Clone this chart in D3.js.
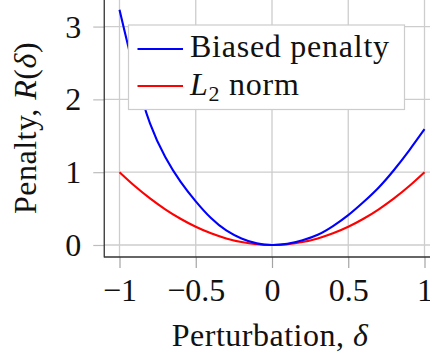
<!DOCTYPE html>
<html>
<head>
<meta charset="utf-8">
<script src="https://cdn.jsdelivr.net/npm/d3@7"></script>
<style>
  html, body { margin: 0; padding: 0; background: #fff; }
  svg { display: block; }
</style>
</head>
<body>
<svg id="chart" width="430" height="358"></svg>
<script>
// Perturbation values (δ) sampled along the x axis
const delta = [-1.0, -0.9, -0.8, -0.7, -0.6, -0.5, -0.4, -0.3, -0.2, -0.1,
               0.0, 0.1, 0.2, 0.3, 0.4, 0.5, 0.6, 0.7, 0.8, 0.9, 1.0];
// Biased penalty R(δ)
const biased = [3.23, 2.37, 1.67, 1.21, 0.87, 0.60, 0.37, 0.20, 0.09, 0.022,
                0.0, 0.015, 0.065, 0.14, 0.26, 0.41, 0.59, 0.79, 1.03, 1.30, 1.59];
// L2 norm of the perturbation
const l2 = [1.0, 0.81, 0.64, 0.49, 0.36, 0.25, 0.16, 0.09, 0.04, 0.01,
            0.0, 0.01, 0.04, 0.09, 0.16, 0.25, 0.36, 0.49, 0.64, 0.81, 1.0];

const xTicks = [-1, -0.5, 0, 0.5, 1];
const xTickLabels = ["\u22121", "\u22120.5", "0", "0.5", "1"];
const yTicks = [0, 1, 2, 3];
const yTickLabels = ["0", "1", "2", "3"];

const FONT = "Liberation Serif";
const svg = d3.select("#chart");
const W = 430;

// axis box spans a little beyond the data range on the left and bottom
const x = d3.scaleLinear().domain([-1.1, 1.1]).range([104.25, 439.75]);
const y = d3.scaleLinear().domain([-0.165, 3.365]).range([257, 0]);

const x0 = x.range()[0], yb = y.range()[0];
const tickLen = 11;

// grid lines
const grid = svg.append("g").attr("stroke", "#cdcdcd").attr("stroke-width", 1.3);
grid.selectAll("line.v").data(xTicks).join("line")
  .attr("class", "v")
  .attr("x1", d => x(d)).attr("x2", d => x(d))
  .attr("y1", 0).attr("y2", yb);
grid.selectAll("line.h").data(yTicks).join("line")
  .attr("class", "h")
  .attr("x1", x0).attr("x2", W)
  .attr("y1", d => y(d)).attr("y2", d => y(d));

// x axis: ticks and labels
const xAxis = svg.append("g")
  .attr("transform", `translate(0,${yb})`)
  .call(d3.axisBottom(x).tickValues(xTicks).tickSize(tickLen)
        .tickFormat((d, i) => xTickLabels[i]));
xAxis.attr("font-family", FONT).attr("font-size", 32);
xAxis.select(".domain").remove();
xAxis.selectAll(".tick line").attr("stroke", "#a4a4a4").attr("stroke-width", 1.2);
xAxis.selectAll(".tick text")
  .attr("y", 44).attr("dy", 0)
  .attr("fill", "#111");

// y axis: ticks and labels
const yAxis = svg.append("g")
  .attr("transform", `translate(${x0},0)`)
  .call(d3.axisLeft(y).tickValues(yTicks).tickSize(tickLen)
        .tickFormat((d, i) => yTickLabels[i]));
yAxis.attr("font-family", FONT).attr("font-size", 32);
yAxis.select(".domain").remove();
yAxis.selectAll(".tick line").attr("stroke", "#bdbdbd").attr("stroke-width", 1.2);
yAxis.selectAll(".tick text")
  .attr("x", -23).attr("dy", "0.33em")
  .attr("fill", "#111");

// axis lines (left and bottom)
svg.append("line").attr("x1", x0).attr("x2", x0).attr("y1", 0).attr("y2", yb + 0.6)
  .attr("stroke", "#333").attr("stroke-width", 1.3);
svg.append("line").attr("x1", x0).attr("x2", W).attr("y1", yb).attr("y2", yb)
  .attr("stroke", "#333").attr("stroke-width", 1.3);

// curves
const line = vals => d3.line()
  .x((d, i) => x(delta[i]))
  .y((d, i) => y(vals[i]))
  .curve(d3.curveNatural)(vals);

svg.append("path").attr("d", line(l2))
  .attr("fill", "none").attr("stroke", "#ff0000").attr("stroke-width", 2.1);
svg.append("path").attr("d", line(biased))
  .attr("fill", "none").attr("stroke", "#0000ff").attr("stroke-width", 2.1);

// legend
const lg = svg.append("g").attr("font-family", FONT).attr("font-size", 32)
  .attr("fill", "#111").attr("letter-spacing", 0.75);
lg.append("rect")
  .attr("x", 128.5).attr("y", 25).attr("width", 276).attr("height", 84.5)
  .attr("fill", "#fff").attr("stroke", "#cccccc").attr("stroke-width", 1.2);
const entries = [
  { color: "#0000ff", cy: 49, base: 57 },
  { color: "#ff0000", cy: 86, base: 95 }
];
lg.selectAll("line.key").data(entries).join("line")
  .attr("class", "key")
  .attr("x1", 137.5).attr("x2", 183).attr("y1", d => d.cy).attr("y2", d => d.cy)
  .attr("stroke", d => d.color).attr("stroke-width", 2.1);

lg.append("text").attr("x", 190).attr("y", entries[0].base).text("Biased penalty");
const t2 = lg.append("text").attr("x", 190).attr("y", entries[1].base);
t2.append("tspan").attr("font-style", "italic").text("L");
t2.append("tspan").attr("dy", 6).attr("font-size", 22).text("2");
t2.append("tspan").attr("dy", -6).text(" norm");

// axis titles
const titles = svg.append("g").attr("font-family", FONT).attr("font-size", 32)
  .attr("fill", "#111").attr("letter-spacing", 0.5);
const xt = titles.append("text").attr("x", 270).attr("y", 346).attr("text-anchor", "middle");
xt.append("tspan").text("Perturbation, ");
xt.append("tspan").attr("font-style", "italic").text("\u03b4");

const yt = titles.append("text")
  .attr("transform", "translate(36,128) rotate(-90)")
  .attr("text-anchor", "middle");
yt.append("tspan").text("Penalty, ");
yt.append("tspan").attr("font-style", "italic").text("R");
yt.append("tspan").text("(");
yt.append("tspan").attr("font-style", "italic").text("\u03b4");
yt.append("tspan").text(")");
</script>
</body>
</html>
